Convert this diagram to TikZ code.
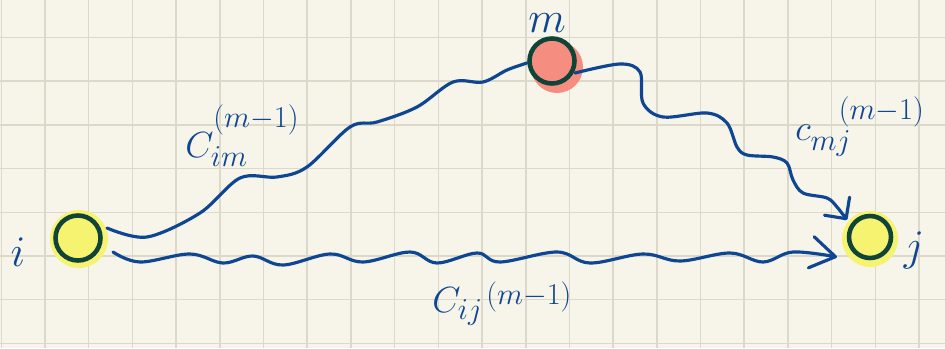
\documentclass[tikz,border=0pt]{standalone}
\usetikzlibrary{arrows.meta,calc}

\definecolor{paper}{RGB}{247,245,234}
\definecolor{gridgray}{RGB}{220,216,202}
\definecolor{ink}{RGB}{14,70,145}
\definecolor{rim}{RGB}{16,68,56}
\definecolor{lemon}{RGB}{245,243,112}
\definecolor{salmon}{RGB}{245,142,128}

\DeclareMathSizes{20.74}{20.74}{17.28}{12}
\DeclareMathSizes{24.88}{24.88}{17.28}{12}

\begin{document}
\begin{tikzpicture}[
    x=0.02cm, y=-0.02cm,
    gridline/.style={
        draw=gridgray,
        line width=0.9pt
    },
    vertex/.style={
        circle,
        draw=rim,
        line width=2.6pt,
        minimum size=0.9cm,
        inner sep=0pt
    },
    edge/.style={
        draw=ink,
        line width=1.8pt,
        line cap=round,
        line join=round
    },
    letter/.style={
        text=ink,
        font=\fontsize{24.88}{30}\selectfont,
        inner sep=0pt
    },
    weight/.style={
        text=ink,
        font=\fontsize{20.74}{24}\selectfont,
        anchor=base west,
        inner sep=0pt
    }
]

% Paper
\useasboundingbox (0,0) rectangle (945,348);
\fill[paper] (0,0) rectangle (945,348);
\foreach \k in {0,...,21}
    \draw[gridline] ({1.3+43.7*\k},0) -- ({1.3+43.7*\k},348);
\foreach \k in {0,...,7}
    \draw[gridline] (0,{37.5+43.7*\k}) -- (945,{37.5+43.7*\k});

% Vertices
\fill[lemon] (79,239) circle (29);
\fill[salmon] (557,67) circle (26);
\fill[lemon] (870,239) circle (28);
\node[vertex, fill=lemon] (i) at (78,238) {};
\node[vertex, fill=salmon] (m) at (552,61) {};
\node[vertex, fill=lemon, minimum size=0.84cm] (j) at (870,237) {};

% Vertex labels
\node[letter] (li) at (18,252) {$i$};
\node[letter] (lm) at (547,23) {$m$};
\node[letter] (lj) at (914,250) {$j$};

% Weights
\node[weight] (cim) at (185,157)
    {$C_{im}^{\raisebox{9pt}{$\scriptstyle(m-1)$}}$};
\node[weight] (cmj) at (795,140)
    {$c_{mj}^{\kern16pt\raisebox{4pt}{$\scriptstyle(m-1)$}}$};
\node[weight] (cij) at (432,312)
    {$C_{ij}\kern2pt\raisebox{4.3pt}{$\scriptstyle(m-1)$}$};

% Paths
\draw[edge] plot[smooth, tension=0.55] coordinates {
    ($(i)+(29,-10)$) (147,237) (200,213) (240,178) (277,177) (307,167)
    (350,127) (377,122) (417,107) (453,82) (483,82) (507,70)
    ($(m)+(-25,2)$)};

\draw[edge, -{Straight Barb[length=8.8pt, width=17.6pt, round]}]
    plot[smooth, tension=0.55] coordinates {
    ($(m)+(23,12)$) (620,64) (640,72) (643,103) (663,117) (707,113)
    (727,123) (737,147) (747,155) (773,157) (787,163) (793,180)
    (803,193) (827,198) (837,207) ($(j)+(-23,-17)$)};

\draw[edge, -{Straight Barb[length=14pt, width=18pt, round]}]
    plot[smooth, tension=0.6] coordinates {
    ($(i)+(35,14)$) (140,262) (190,254) (223,263) (253,256) (283,265)
    (330,254) (363,262) (410,252) (437,263) (477,253) (500,262)
    (557,252) (590,263) (643,254) (680,261) (730,253) (763,262)
    (793,252) ($(j)+(-33,20)$)};

\end{tikzpicture}
\end{document}
